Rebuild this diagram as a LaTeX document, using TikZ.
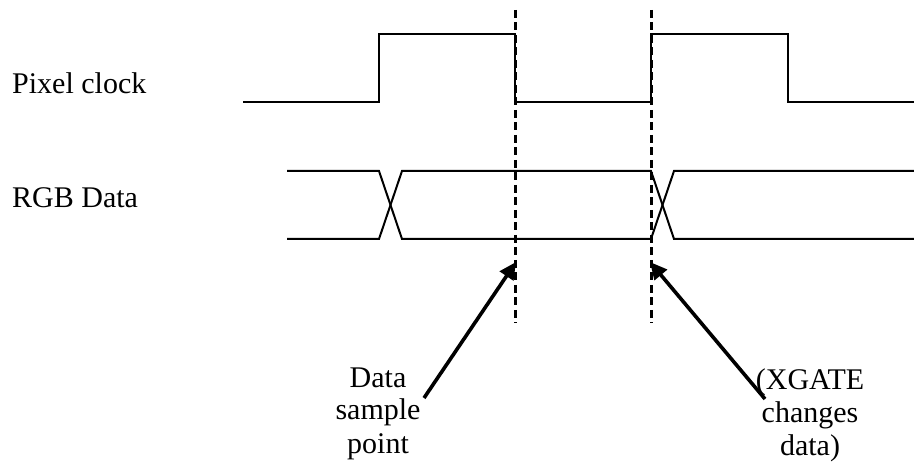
\documentclass[tikz,border=0pt]{standalone}
\usepackage{fontspec}
\setmainfont{Liberation Serif}
\usetikzlibrary{arrows.meta}
\begin{document}
\begin{tikzpicture}[x=1pt,y=-1pt,
  wave/.style={line width=2pt,line join=miter},
  marker/.style={line width=3pt,dash pattern=on 8pt off 4.5pt},
  pointer/.style={line width=3.6pt,-{Triangle[length=17pt,width=16pt]}},
  label/.style={font=\fontsize{30}{33}\selectfont,inner sep=0pt,align=center}]
\useasboundingbox (0,0) rectangle (914,465);
% signal names
\node[label,anchor=base west] (pclk) at (12,94) {Pixel clock};
\node[label,anchor=base west] (rgb) at (12,208) {RGB Data};
% pixel clock waveform
\draw[wave] (243,102) -- (379,102) -- (379,34) -- (515,34) -- (515,102)
  -- (651,102) -- (651,34) -- (788,34) -- (788,102) -- (914,102);
% RGB data waveform
\draw[wave] (287,171) -- (379,171) -- (402,239) -- (651,239) -- (674,171) -- (914,171);
\draw[wave] (287,239) -- (379,239) -- (402,171) -- (651,171) -- (674,239) -- (914,239);
% dashed markers
\coordinate (m1top) at (515,10);
\coordinate (m1bot) at (515,323);
\coordinate (m2top) at (651,10);
\coordinate (m2bot) at (651,323);
\draw[marker] (m1top) -- (m1bot);
\draw[marker] (m2top) -- (m2bot);
% labels
\node[label,anchor=base] (sample) at (378,453) {Data\\sample\\point};
\node[label,anchor=base] (xgate) at (810,455) {(XGATE\\changes\\data)};
% arrows
\coordinate (t1) at (424,398);
\coordinate (h1) at (516,262);
\coordinate (t2) at (765,399);
\coordinate (h2) at (650,262);
\draw[pointer] (t1) -- (h1);
\draw[pointer] (t2) -- (h2);
\end{tikzpicture}
\end{document}
